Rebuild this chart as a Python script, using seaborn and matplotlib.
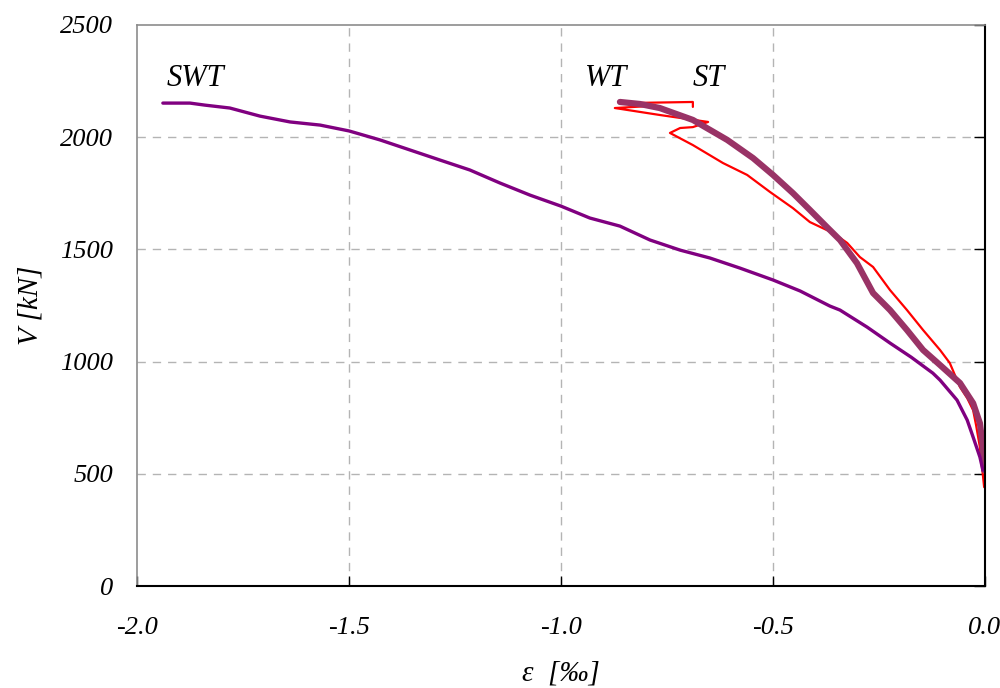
import pandas as pd
import seaborn as sns
import matplotlib.pyplot as plt

# curves (strain in permille, shear in kN)
swt_eps = [-1.939, -1.875, -1.840, -1.781, -1.710, -1.639, -1.568, -1.500, -1.427, -1.356,
           -1.285, -1.215, -1.144, -1.073, -1.000, -0.932, -0.861, -0.790, -0.719, -0.649,
           -0.578, -0.500, -0.436, -0.366, -0.342, -0.278, -0.224, -0.174, -0.123, -0.106,
           -0.066, -0.042, -0.028, -0.012, -0.005]
swt_v = [2152, 2152, 2143, 2130, 2094, 2068, 2054, 2028, 1988, 1943,
         1898, 1854, 1796, 1742, 1693, 1640, 1604, 1542, 1497, 1462,
         1417, 1364, 1315, 1248, 1230, 1154, 1083, 1020, 949, 918,
         829, 740, 664, 575, 517]

wt_eps = [-0.861, -0.814, -0.767, -0.689, -0.608, -0.547, -0.500, -0.453, -0.413, -0.373,
          -0.342, -0.302, -0.264, -0.224, -0.184, -0.146, -0.106, -0.059, -0.028, -0.012,
          -0.005, -0.002]
wt_v = [2157, 2148, 2130, 2077, 1988, 1907, 1832, 1751, 1676, 1600,
        1542, 1439, 1306, 1230, 1141, 1052, 985, 905, 815, 726,
        619, 517]

st_eps = [-0.002, -0.007, -0.012, -0.021, -0.028, -0.042, -0.059, -0.083, -0.106, -0.146,
          -0.184, -0.224, -0.264, -0.295, -0.325, -0.358, -0.413, -0.453, -0.507, -0.561,
          -0.618, -0.689, -0.743, -0.719, -0.689, -0.653, -0.767, -0.873, -0.790, -0.849,
          -0.689, -0.689]
st_v = [441, 530, 619, 717, 784, 838, 887, 994, 1052, 1141,
        1230, 1319, 1422, 1466, 1529, 1573, 1622, 1684, 1756, 1832,
        1885, 1965, 2019, 2041, 2045, 2068, 2099, 2130, 2139, 2152,
        2157, 2135]

x_ticks = [-2.0, -1.5, -1.0, -0.5, 0.0]
y_ticks = [0, 500, 1000, 1500, 2000, 2500]

sns.set_style("white")
plt.rcParams['font.family'] = ['Liberation Serif', 'DejaVu Serif']
plt.rcParams['font.style'] = 'italic'
plt.rcParams['text.color'] = 'black'
plt.rcParams['axes.labelcolor'] = 'black'
plt.rcParams['xtick.color'] = 'black'
plt.rcParams['ytick.color'] = 'black'

fig, ax = plt.subplots(figsize=(10, 6.88), dpi=100)
fig.subplots_adjust(left=0.137, right=0.985, bottom=0.148, top=0.9637)

st = pd.DataFrame({"eps": st_eps, "V": st_v})
wt = pd.DataFrame({"eps": wt_eps, "V": wt_v})
swt = pd.DataFrame({"eps": swt_eps, "V": swt_v})

sns.lineplot(data=st, x="eps", y="V", sort=False, estimator=None, color="#FF0000", linewidth=1.6, ax=ax)
sns.lineplot(data=wt, x="eps", y="V", sort=False, estimator=None, color="#993366", linewidth=4.5, ax=ax)
sns.lineplot(data=swt, x="eps", y="V", sort=False, estimator=None, color="#800080", linewidth=2.4, ax=ax)

ax.set_xlim(-2.0, 0.0)
ax.set_ylim(0, 2500)
ax.set_xticks(x_ticks)
ax.set_xticklabels([f"{t:.1f}" for t in x_ticks], fontstyle="italic")
ax.set_yticks(y_ticks)
ax.set_yticklabels([str(t) for t in y_ticks], fontstyle="italic")

# dashed grid on interior ticks only
for t in x_ticks[1:-1]:
    ax.axvline(t, color="#b4b4b4", linestyle=(0, (6, 5)), linewidth=1, zorder=0)
for t in y_ticks[1:-1]:
    ax.axhline(t, color="#b4b4b4", linestyle=(0, (6, 5)), linewidth=1, zorder=0)

for side in ["left", "top"]:
    ax.spines[side].set_color("#8c8c8c")
    ax.spines[side].set_linewidth(1.2)
for side in ["right", "bottom"]:
    ax.spines[side].set_color("black")
    ax.spines[side].set_linewidth(1.5)

ax.tick_params(axis="x", direction="in", length=7, width=1, pad=22, labelsize=19, bottom=True)
ax.tick_params(axis="y", direction="in", length=8, width=1, pad=17, labelsize=19,
               left=False, right=True, labelleft=True, labelright=False)

ax.set_xlabel("ε  [‰]", fontsize=21, fontstyle="italic", labelpad=16)
ax.set_ylabel("V [kN]", fontsize=21, fontstyle="italic", labelpad=12)

ax.text(-1.93, 2260, "SWT", fontsize=22, va="center", ha="left", fontstyle="italic")
ax.text(-0.943, 2260, "WT", fontsize=22, va="center", ha="left", fontstyle="italic")
ax.text(-0.689, 2260, "ST", fontsize=22, va="center", ha="left", fontstyle="italic")

plt.savefig("out.png", dpi=100)
plt.close()
